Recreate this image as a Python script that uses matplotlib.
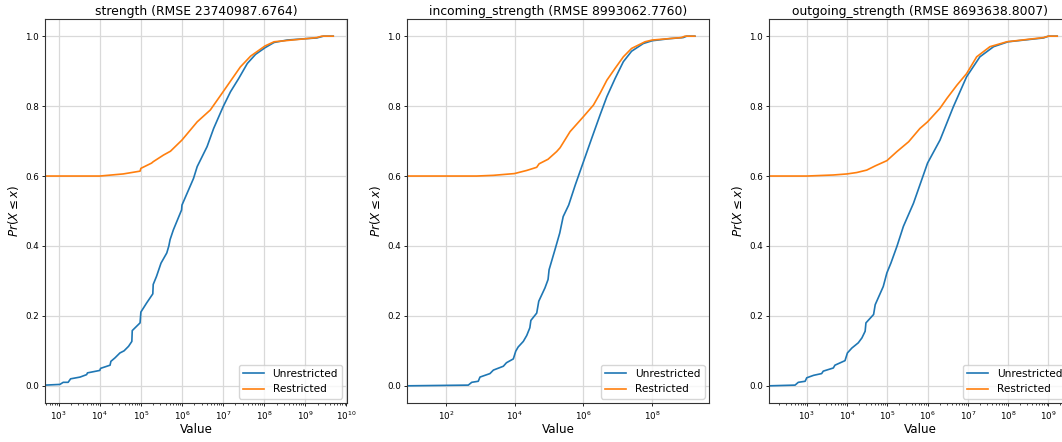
import numpy as np
import matplotlib
matplotlib.use('Agg')
import matplotlib.pyplot as plt
from matplotlib.ticker import LogLocator, FixedLocator, NullLocator, LogFormatterSciNotation

# CDF points: log10(value) and Pr(X <= x)
strength_unres_logx = [2.67, 3.03, 3.11, 3.23, 3.29, 3.52, 3.68, 3.70, 4.0, 4.02, 4.25, 4.27, 4.37, 4.49,
                       4.59, 4.70, 4.78, 4.79, 4.98, 5.0, 5.14, 5.29, 5.30, 5.38, 5.49, 5.63, 5.68, 5.71,
                       5.79, 5.99, 6.0, 6.28, 6.37, 6.61, 6.77, 7.0, 7.18, 7.38, 7.59, 7.79, 8.02, 8.24,
                       8.56, 9.03, 9.28, 9.44, 9.68]
strength_unres_p = [0.002, 0.004, 0.01, 0.01, 0.02, 0.025, 0.032, 0.037, 0.044, 0.05, 0.059, 0.07, 0.08, 0.094,
                    0.10, 0.113, 0.127, 0.158, 0.18, 0.211, 0.237, 0.263, 0.29, 0.313, 0.351, 0.38, 0.40, 0.418,
                    0.446, 0.503, 0.517, 0.593, 0.627, 0.684, 0.736, 0.798, 0.841, 0.879, 0.922, 0.948, 0.967,
                    0.982, 0.989, 0.993, 0.995, 1.0, 1.0]
strength_res_logx = [2.67, 4.0, 4.57, 4.98, 5.0, 5.26, 5.30, 5.55, 5.72, 6.0, 6.37, 6.69, 7.0, 7.42, 7.67,
                     8.02, 8.24, 9.03, 9.28, 9.40, 9.68]
strength_res_p = [0.60, 0.60, 0.606, 0.614, 0.622, 0.637, 0.641, 0.66, 0.671, 0.703, 0.755, 0.789, 0.841,
                  0.912, 0.943, 0.972, 0.984, 0.993, 0.996, 1.0, 1.0]

incoming_unres_logx = [0.88, 2.65, 2.75, 2.94, 2.99, 3.28, 3.38, 3.67, 3.76, 3.96, 4.03, 4.10, 4.25, 4.35,
                       4.44, 4.47, 4.64, 4.70, 4.88, 4.97, 5.0, 5.17, 5.31, 5.41, 5.57, 5.76, 6.0, 6.24,
                       6.48, 6.68, 6.92, 7.16, 7.40, 7.74, 8.0, 8.51, 8.9, 9.0, 9.24]
incoming_unres_p = [0.0, 0.002, 0.01, 0.013, 0.025, 0.035, 0.045, 0.056, 0.066, 0.077, 0.099, 0.111, 0.127,
                    0.144, 0.166, 0.187, 0.208, 0.242, 0.28, 0.304, 0.332, 0.389, 0.437, 0.484, 0.517, 0.574,
                    0.641, 0.708, 0.774, 0.827, 0.879, 0.927, 0.957, 0.979, 0.987, 0.993, 0.996, 1.0, 1.0]
incoming_res_logx = [0.88, 2.89, 3.38, 3.99, 4.35, 4.64, 4.71, 4.97, 5.22, 5.32, 5.61, 6.0, 6.29, 6.48,
                     6.68, 6.92, 7.16, 7.40, 7.79, 8.0, 8.85, 8.95, 9.24]
incoming_res_p = [0.60, 0.60, 0.602, 0.607, 0.616, 0.625, 0.635, 0.648, 0.67, 0.681, 0.727, 0.770, 0.803,
                  0.836, 0.874, 0.908, 0.941, 0.965, 0.984, 0.989, 0.996, 1.0, 1.0]

outgoing_unres_logx = [2.07, 2.71, 2.79, 2.96, 3.0, 3.17, 3.37, 3.41, 3.66, 3.70, 3.95, 4.01, 4.12, 4.28,
                       4.37, 4.45, 4.47, 4.66, 4.70, 4.90, 4.99, 5.09, 5.24, 5.40, 5.65, 6.0, 6.31, 6.64,
                       6.97, 7.30, 7.64, 8.0, 8.88, 9.0, 9.22]
outgoing_unres_p = [0.0, 0.002, 0.01, 0.013, 0.023, 0.03, 0.035, 0.042, 0.051, 0.059, 0.072, 0.094, 0.108,
                    0.123, 0.137, 0.156, 0.18, 0.204, 0.232, 0.284, 0.323, 0.351, 0.399, 0.456, 0.522, 0.637,
                    0.703, 0.798, 0.884, 0.941, 0.97, 0.984, 0.995, 1.0, 1.0]
outgoing_res_logx = [2.07, 3.0, 3.66, 4.0, 4.24, 4.49, 4.70, 4.99, 5.24, 5.53, 5.81, 6.0, 6.31, 6.48, 6.73,
                     6.97, 7.22, 7.55, 7.97, 8.88, 9.0, 9.22]
outgoing_res_p = [0.60, 0.60, 0.603, 0.606, 0.61, 0.617, 0.629, 0.644, 0.67, 0.698, 0.736, 0.755, 0.794,
                  0.822, 0.86, 0.893, 0.941, 0.97, 0.984, 0.996, 1.0, 1.0]

titles = ['strength (RMSE 23740987.6764)',
          'incoming_strength (RMSE 8993062.7760)',
          'outgoing_strength (RMSE 8693638.8007)']
series = [
    (strength_unres_logx, strength_unres_p, strength_res_logx, strength_res_p),
    (incoming_unres_logx, incoming_unres_p, incoming_res_logx, incoming_res_p),
    (outgoing_unres_logx, outgoing_unres_p, outgoing_res_logx, outgoing_res_p),
]
xlims = [(2.667, 10.015), (0.876, 9.66), (2.07, 9.57)]
major_exps = [range(3, 11), range(2, 9, 2), range(3, 10)]

fig = plt.figure(figsize=(10.62, 4.42), dpi=100)
lefts = [45 / 1062, 407.3 / 1062, 769.3 / 1062]

for i, left in enumerate(lefts):
    ax = fig.add_axes([left, 38.7 / 442, 302 / 1062, 384.6 / 442])
    ux, up, rx, rp = series[i]
    ax.plot(10 ** np.array(ux), up, color='#1f77b4', lw=1.2, label='Unrestricted')
    ax.plot(10 ** np.array(rx), rp, color='#ff7f0e', lw=1.2, label='Restricted')
    ax.set_xscale('log')
    ax.set_xlim(10 ** xlims[i][0], 10 ** xlims[i][1])
    ax.set_ylim(-0.05, 1.05)
    ax.xaxis.set_major_locator(FixedLocator([10.0 ** e for e in major_exps[i]]))
    ax.xaxis.set_major_formatter(LogFormatterSciNotation())
    if i == 1:
        ax.xaxis.set_minor_locator(NullLocator())
    else:
        ax.xaxis.set_minor_locator(LogLocator(base=10, subs=np.arange(2, 10), numticks=30))
    ax.set_yticks([0.0, 0.2, 0.4, 0.6, 0.8, 1.0])
    ax.grid(True, which='major', color='#d9d9d9', lw=0.9)
    ax.set_axisbelow(True)
    ax.tick_params(axis='both', which='major', labelsize=6.3, length=2.4, width=0.6, pad=2)
    ax.tick_params(axis='x', which='minor', length=1.4, width=0.5)
    for s in ax.spines.values():
        s.set_linewidth(0.8)
        s.set_color('#333333')
    ax.set_title(titles[i], fontsize=8.9, pad=3)
    ax.set_xlabel('Value', fontsize=8.6, labelpad=1)
    ax.set_ylabel(r'$Pr(X \leq x)$', fontsize=8.6, labelpad=3)
    ax.legend(loc='lower right', fontsize=7.6, handlelength=2.0, borderaxespad=0.45)

fig.savefig('out.png', dpi=100)
